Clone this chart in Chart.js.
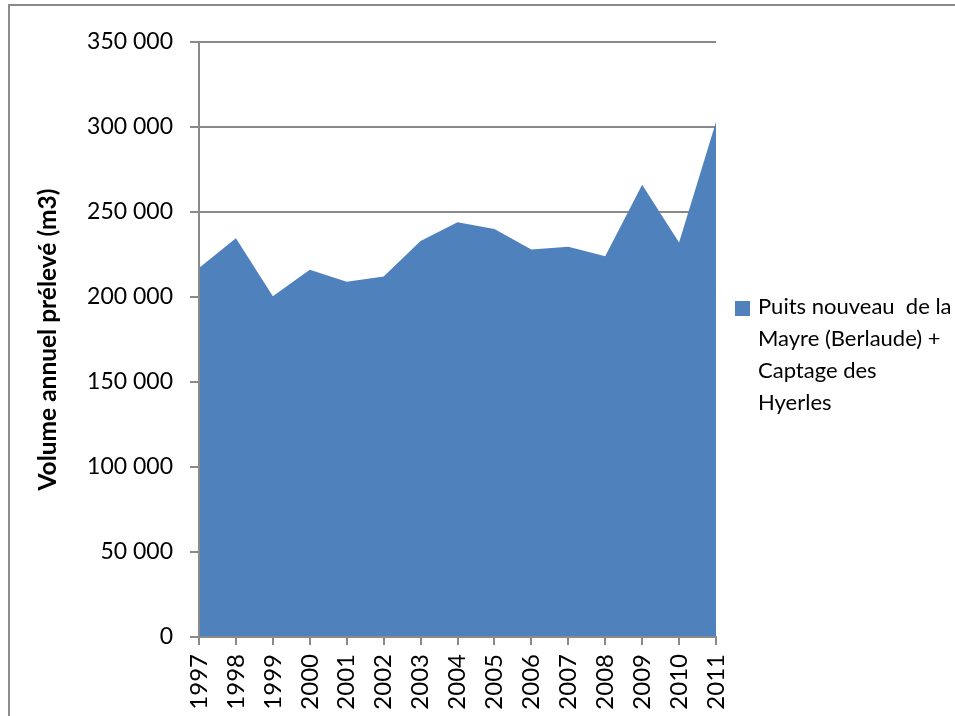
<!DOCTYPE html>
<html>
<head>
<meta charset="utf-8">
<script src="https://cdn.jsdelivr.net/npm/chart.js@4/dist/chart.umd.min.js"></script>
<style>
  html, body { margin: 0; padding: 0; background: #fff; }
  #wrap { width: 955px; height: 716px; position: relative; }
</style>
</head>
<body>
<div id="wrap"><canvas id="volume"></canvas></div>
<script>
    "use strict";

    var years = ["1997", "1998", "1999", "2000", "2001", "2002", "2003", "2004", "2005", "2006", "2007", "2008", "2009", "2010", "2011"];
    var volumes = [217000, 234500, 200500, 216000, 209000, 212000, 233000, 244000, 240000, 228000, 229500, 224000, 266000, 232000, 303000];
    var seriesLines = ["Puits nouveau  de la", "Mayre (Berlaude) +", "Captage des", "Hyerles"];
    var yTitle = "Volume annuel prélevé (m3)";

    var fontFamily = "Lato, 'Open Sans', sans-serif";
    var gridColor = "#8a8a8a";
    var areaColor = "#4f81bd";

    // frame round the whole chart object + white background
    var framePlugin = {
        id: 'frame',
        beforeDraw: function (chart) {
            var ctx = chart.ctx;
            ctx.save();
            ctx.fillStyle = '#fff';
            ctx.fillRect(0, 0, chart.width, chart.height);
            ctx.strokeStyle = '#8c8c8c';
            ctx.lineWidth = 2;
            ctx.strokeRect(9, 5, chart.width + 20, chart.height + 20);
            ctx.restore();
        }
    };

    // legend on the right, wrapped over several lines
    var sideLegend = {
        id: 'sideLegend',
        afterDraw: function (chart) {
            var ctx = chart.ctx, area = chart.chartArea;
            var x = area.right + 19, y = 301, lh = 32;
            ctx.save();
            ctx.fillStyle = areaColor;
            ctx.fillRect(x, y, 15, 15);
            ctx.fillStyle = '#000';
            ctx.font = '22px ' + fontFamily;
            ctx.textBaseline = 'middle';
            ctx.textAlign = 'left';
            for (var i = 0; i < seriesLines.length; i++) {
                ctx.fillText(seriesLines[i], x + 23, y + 6 + i * lh);
            }
            ctx.restore();
        }
    };

    var ctx = document.getElementById('volume').getContext('2d');
    var chart = new Chart(ctx, {
        type: 'line',
        data: {
            labels: years,
            datasets: [{
                label: seriesLines.join(' '),
                data: volumes,
                fill: 'origin',
                backgroundColor: areaColor,
                borderColor: areaColor,
                borderWidth: 0,
                pointRadius: 0,
                tension: 0
            }]
        },
        options: {
            responsive: true,
            maintainAspectRatio: false,
            animation: false,
            layout: { padding: { left: 0, right: 239, top: 42, bottom: 0 } },
            plugins: {
                legend: { display: false },
                tooltip: { enabled: false }
            },
            scales: {
                x: {
                    offset: false,
                    afterFit: function (scale) { scale.height = 79; },
                    grid: {
                        drawOnChartArea: false,
                        drawTicks: true,
                        tickLength: 8,
                        color: gridColor,
                        lineWidth: 2
                    },
                    border: { display: true, color: gridColor, width: 2, z: 1 },
                    ticks: {
                        autoSkip: false,
                        minRotation: 90,
                        maxRotation: 90,
                        padding: 9,
                        color: '#000',
                        font: { family: fontFamily, size: 24 }
                    }
                },
                y: {
                    min: 0,
                    max: 350000,
                    afterFit: function (scale) { scale.width = 199; },
                    grid: {
                        drawTicks: true,
                        tickLength: 9,
                        color: gridColor,
                        lineWidth: 2
                    },
                    border: { display: true, color: gridColor, width: 2, z: 1 },
                    ticks: {
                        stepSize: 50000,
                        padding: 17,
                        color: '#000',
                        font: { family: fontFamily, size: 23 },
                        callback: function (v) {
                            return String(v).replace(/\B(?=(\d{3})+(?!\d))/g, ' ');
                        }
                    },
                    title: {
                        display: true,
                        text: yTitle,
                        color: '#000',
                        padding: { top: 33, bottom: 0 },
                        font: { family: fontFamily, size: 24.5, weight: 'bold' }
                    }
                }
            }
        },
        plugins: [framePlugin, sideLegend]
    });
</script>
</body>
</html>
